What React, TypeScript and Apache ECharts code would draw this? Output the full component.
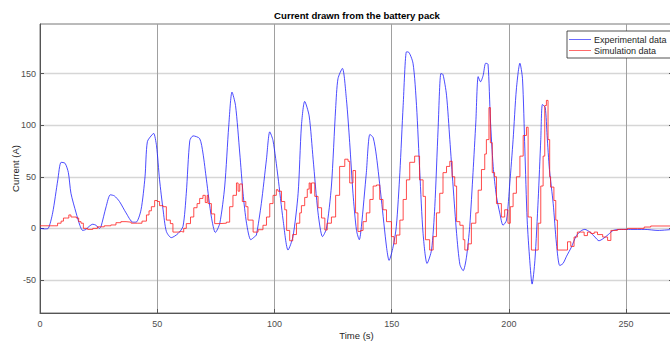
import React, { useEffect, useRef } from "react";
import * as echarts from "echarts";

const expTime = [
  0, 2, 3.5, 5.4, 7.6, 9, 10.7, 12.1, 13.2, 15.4, 17, 18.2, 19.6, 21, 22.5, 23.9, 25.3, 26, 28.2, 30,
  31.7, 33.9, 36.7, 39.6, 41, 43.1, 44.8, 45.8, 47.9, 48.5, 49.7, 51, 52.5, 53.9, 56, 58.9, 61, 62.4,
  63.9, 65.3, 68.1, 69.5, 71, 73.1, 74.8, 76.7, 78.8, 80.5, 81.9, 83.4, 85.2, 86.6, 88.1, 89.9, 91.6,
  92.3, 94.4, 96.6, 98, 99.4, 101.5, 103.7, 105.8, 107.9, 110.1, 111.5, 112.9, 114.8, 116.5, 118.6,
  120.5, 122.2, 124.3, 126.1, 127.1, 129, 130.7, 132.1, 133.5, 135, 136.2, 137.1, 139.2, 140.7, 142.1,
  143.5, 145.6, 147.8, 148.9, 150.6, 152, 153.5, 154.9, 156.3, 157, 159.1, 160.6, 162, 163.4, 165.1,
  167, 168.4, 169.8, 171, 171.9, 173.4, 174.8, 176.2, 177.7, 179.1, 180.5, 181.9, 183.3, 184.7, 185.9,
  186.9, 187.9, 189, 190.1, 191.1, 192.1, 193.3, 194.7, 196.1, 197.5, 199, 200.4, 201.8, 203.2, 204.7,
  205.8, 206.8, 207.8, 208.9, 209.9, 211.1, 212.5, 213.6, 214.3, 215.5, 216.3, 217.3, 218.9, 220.3,
  221.7, 223.1, 224.6, 226.7, 228.8, 231, 232.4, 234.5, 236.7, 238.4, 240.2, 242.4, 244.5, 248, 252,
  258, 263.6, 270,
];
const expCurrent = [
  0, -0.5, 0, 15, 47, 64, 63, 54, 34, 15, 3, -2, -1, 2, 4, 3, 0, 1.5, 21, 32.5,
  31.5, 26, 15, 6, 6, 18, 50, 84, 91, 92, 80, 47, 18, -3, -9, -5, 2, 34,
  85, 89.6, 87, 73, 47, 11, -4, 5, 41, 99, 132, 119, 73, 34, 5, -11, -8,
  -6.5, 24, 67, 93.5, 85, 50, 8, -21, -8, 34, 99, 123, 109, 67, 15,
  -8, 0, 41, 116, 145, 155, 125, 83, 34, -2, -11, 2, 54, 91, 88,
  70, 28, -18, -31, -18, 2, 54, 119, 171, 171, 160, 119, 54, -5, -34,
  -21, 21, 96, 150, 149, 129, 86, 41, -5, -35, -41, -28, 2, 54, 103,
  147, 142, 148, 160, 159, 106, 60, 31, 15, 3, 8, 44, 86, 135, 160,
  145, 77, 8, -31, -54, -31, 28, 86, 120, 117, 90, 57, 24, -15,
  -36, -34, -27, -18, -7, -2, -1, -3.5, -8.4, -12, -10, -6, -2, -1, -1,
  -1, -2, -1,
];

const simTime = [
  0, 6, 7.5, 9, 10, 11.3, 12.3, 13.2, 14.5, 15.5, 16.5, 17.5, 18.5, 20.3, 22.5, 24.5, 27.4, 30.2, 32.4,
  34.5, 36.7, 38.9, 41.7, 43.5, 45.4, 46.5, 47.5, 48.9, 50, 51, 52.5, 53.9, 55.6, 56.7, 58.9, 60.3,
  61.3, 62.4, 64.2, 65.6, 67, 68.1, 69.5, 70.5, 71.3, 71.7, 73.1, 74.5, 76.7, 79.5, 80.9, 82.3, 83.8,
  84.5, 85.2, 86.3, 87.8, 88.7, 90.9, 93, 95.1, 96.6, 98, 99.4, 100.8, 101.5, 103, 104.4, 105.2, 106.5,
  107.8, 109.4, 110.8, 111.5, 112.9, 114, 114.8, 115.3, 115.8, 117.2, 118.6, 120.1, 121.5, 122.5,
  124.3, 126.1, 127.8, 130, 131.4, 132.1, 133.5, 134.6, 135.6, 136.8, 137.8, 139.2, 140.7, 142.1,
  143.5, 144.9, 146.3, 147.8, 149.9, 151, 152, 153.5, 154.9, 156.3, 157.7, 159.8, 160.9, 161.9, 163.4,
  164.4, 166.2, 167.7, 169.1, 170.5, 171.9, 173.4, 174.8, 175.8, 176.9, 177.7, 179.1, 180.5, 181.2,
  182.6, 184, 185.9, 186.9, 188.3, 189.7, 190.4, 191.5, 192.1, 192.9, 193.9, 194.7, 196.8, 198.2,
  199.6, 200.6, 201.8, 203.2, 204.7, 206.1, 207.5, 208.2, 209.6, 211.5, 212.5, 213.6, 214.6, 215.3,
  216, 216.7, 217.4, 217.8, 219.2, 220, 220.7, 224.3, 225, 226.4, 227.8, 229.2, 230.7, 232.1, 233.5,
  235, 236.4, 237.8, 240, 242.1, 243.5, 246.3, 250.6, 254.9, 257.7, 260.5, 270,
];
const simCurrent = [
  2.5, 2.5, 5, 7, 10, 10, 13, 11, 11, 10, 6.5, 5, 0, -1, 0, 1.5, 2.5, 3.3, 5.5,
  6.5, 6, 5, 5, 7, 13, 17, 21, 27, 26, 22, 21, 8, 4.6, -3.6, -3, -3.6,
  0, 4.6, 11, 20, 24, 29, 32, 25, 32, 24, 14, 4.6, 5, 6, 21, 32, 44,
  36, 43, 26, 21, 8, -3.6, -1.3, 3, 11, 24, 32, 37.5, 36, 26, 18, -2, -12,
  -6, 5, 15, 22, 30, 38, 44, 34, 44, 31, 20, 10, -1.6, 5,
  11, 32, 60, 67, 65, 44, 56, 15, -3, -2, 6.5, 15, 28, 41,
  42, 28, 18, 6.5, -8, -15, -6.5, 8, 28, 47, 64, 70, 70, 47, 31,
  -11, -21, -8, 15, 34, 54, 60, 65, 50, 41, 6.5, 3, -11, -21,
  -15, 5, 15, 37, 57, 72, 86, 117, 83, 54, 50, 24, 11, 18,
  5, 21, 34, 50, 70, 90, 98, 11, -21, -21, 5, 41, 70, 119,
  124, 86, 50, 40, 27, 8, -21, -21, -13, -17.5, -8.4, -3.6, -3.6, -7, -3.6,
  -5, -3.6, -6, -8.4, -11.7, -2, -1, 0, 0, 1.3, 2.3, 2.3,
];

const xTicks = [0, 50, 100, 150, 200, 250];
const yTicks = [-50, 0, 50, 100, 150];

const FONT = "'Liberation Sans', Arial, Helvetica, sans-serif";

export default function App() {
  const ref = useRef<HTMLDivElement>(null);
  useEffect(() => {
    const chart = echarts.init(ref.current!, null, { renderer: "svg" });
    const expData = expTime.map((t, i) => [t, expCurrent[i]]);
    const simData = simTime.map((t, i) => [t, simCurrent[i]]);
    chart.setOption({
      animation: false,
      backgroundColor: "#ffffff",
      textStyle: { fontFamily: FONT },
      title: {
        text: "Current drawn from the battery pack",
        left: 357,
        top: 10,
        textAlign: "center",
        padding: 0,
        textStyle: { fontSize: 9.6, fontWeight: "bold", color: "#000", fontFamily: FONT },
      },
      grid: {
        left: 40,
        right: -3,
        top: 24,
        bottom: 30,
        outerBoundsMode: "none",
        containLabel: false,
        show: true,
        borderColor: "#777",
        borderWidth: 1,
        backgroundColor: "transparent",
      },
      legend: {
        orient: "vertical",
        left: 567,
        top: 31,
        padding: [4, 4, 3, 2],
        itemGap: 2,
        itemWidth: 22,
        itemHeight: 1,
        icon: "rect",
        backgroundColor: "#fff",
        borderColor: "#262626",
        borderWidth: 0.8,
        borderRadius: 0,
        textStyle: { fontSize: 9, color: "#262626", fontFamily: FONT, padding: [0, 0, 0, -2] },
        data: ["Experimental data", "Simulation data"],
      },
      xAxis: {
        type: "value",
        min: 0,
        max: 270,
        interval: 50,
        name: "Time (s)",
        nameLocation: "middle",
        nameGap: 17,
        nameMoveOverlap: false,
        nameTextStyle: { fontSize: 9.5, color: "#262626", fontFamily: FONT },
        axisLine: { show: true, onZero: false, lineStyle: { color: "#555", width: 1 } },
        axisTick: { show: true, inside: true, length: 4, customValues: xTicks, lineStyle: { color: "#555" } },
        axisLabel: { customValues: xTicks, fontSize: 9, color: "#4d4d4d", margin: 6, fontFamily: FONT },
        splitLine: { show: true, lineStyle: { color: "#a0a0a0", width: 1 } },
      },
      yAxis: [
        {
          type: "value",
          min: -82,
          max: 198,
          name: "Current (A)",
          nameLocation: "middle",
          nameGap: 20,
          nameMoveOverlap: false,
          nameTextStyle: { fontSize: 9.5, color: "#262626", fontFamily: FONT },
          axisLine: { show: true, onZero: false, lineStyle: { color: "#555", width: 1 } },
          axisTick: { show: true, inside: true, length: 4, customValues: yTicks, lineStyle: { color: "#555" } },
          axisLabel: { customValues: yTicks, fontSize: 9, color: "#4d4d4d", margin: 4, fontFamily: FONT },
          splitLine: { show: true, lineStyle: { color: "#d6d6d6", width: 1.4 } },
        },
        {
          type: "value",
          min: -82,
          max: 198,
          position: "right",
          axisLine: { show: true, onZero: false, lineStyle: { color: "#555" } },
          axisTick: { show: true, inside: true, length: 4, customValues: yTicks, lineStyle: { color: "#555" } },
          axisLabel: { show: false, customValues: yTicks },
          splitLine: { show: false },
        },
      ],
      series: [
        {
          name: "Experimental data",
          type: "line",
          data: expData,
          symbol: "none",
          smooth: 0.25,
          lineStyle: { color: "#1a1aff", width: 1, opacity: 0.78 },
          itemStyle: { color: "#6a6aff" },
          z: 3,
        },
        {
          name: "Simulation data",
          type: "line",
          data: simData,
          symbol: "none",
          step: "end",
          lineStyle: { color: "#ff1a1a", width: 1, opacity: 0.78 },
          itemStyle: { color: "#ff6a6a" },
          z: 4,
        },
      ],
    });
    return () => chart.dispose();
  }, []);
  return (
    <div
      ref={ref}
      style={{ position: "fixed", left: 0, top: 0, width: 670, height: 343 }}
    />
  );
}
